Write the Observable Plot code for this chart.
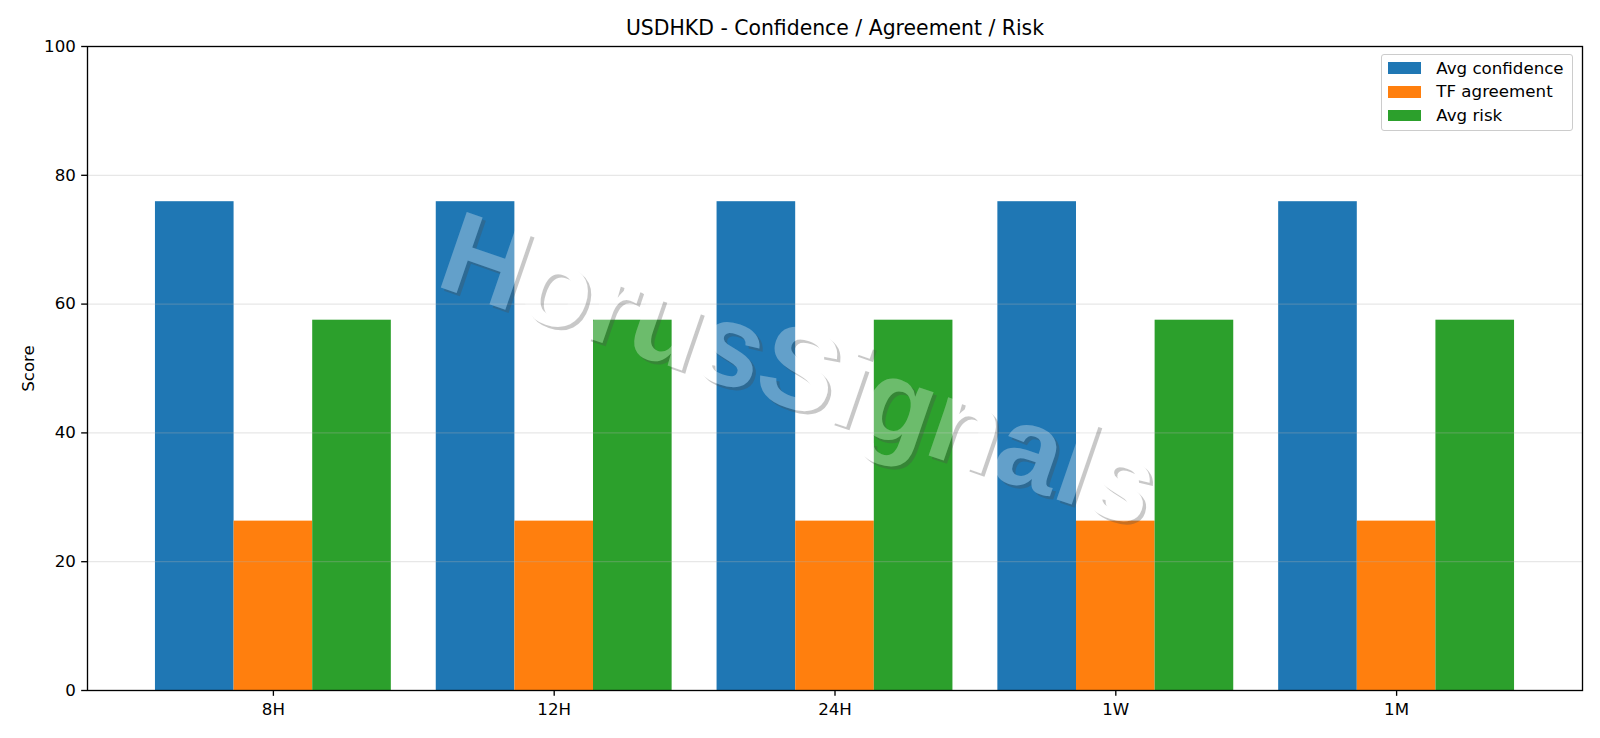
<!DOCTYPE html>
<html>
<head>
<meta charset="utf-8">
<script src="https://cdn.jsdelivr.net/npm/d3@7"></script>
<script src="https://cdn.jsdelivr.net/npm/@observablehq/plot@0.6"></script>
<style>
  html, body { margin: 0; padding: 0; background: white; }
  #wrap { position: relative; width: 1600px; height: 738px; font-family: "DejaVu Sans", sans-serif; }
  #legend { position: absolute; box-sizing: border-box; background: rgba(255,255,255,0.8);
            border: 1.33px solid #cccccc; border-radius: 3px; }
  .lrow { position: absolute; left: 5.5px; height: 23.7px; display: flex; align-items: center; white-space: nowrap;
          font-size: 16.67px; color: black; }
  .lsw { width: 33.3px; height: 11.7px; margin-right: 15.5px; }
</style>
</head>
<body>
<div id="wrap"></div>
<script>
// ---- data ----
const timeframes = ["8H", "12H", "24H", "1W", "1M"];
const seriesNames = ["Avg confidence", "TF agreement", "Avg risk"];
const seriesColors = ["#1f77b4", "#ff7f0e", "#2ca02c"];
const avgConfidence = [75.9, 75.9, 75.9, 75.9, 75.9];
const tfAgreement = [26.3, 26.3, 26.3, 26.3, 26.3];
const avgRisk = [57.5, 57.5, 57.5, 57.5, 57.5];
const yTicks = [0, 20, 40, 60, 80, 100];
const gridTicks = [20, 40, 60, 80];
const titleText = "USDHKD - Confidence / Agreement / Risk";
const yLabel = "Score";
const watermark = "HorusSignals";

// ---- build table ----
const seriesValues = [avgConfidence, tfAgreement, avgRisk];
const barW = 0.28;
const rows = timeframes.flatMap((tf, i) =>
  seriesValues.map((arr, s) => ({ tf, i, s, series: seriesNames[s], value: arr[i] })));
const lo = -barW * 1.5, hi = (timeframes.length - 1) + barW * 1.5;
const m = (hi - lo) * 0.05;

const fs = 16.67;
const wmStyle = {
  text: d => d, frameAnchor: "middle", rotate: 19,
  fontSize: 116, fontFamily: "Liberation Sans", fontWeight: "bold"
};
const chart = Plot.plot({
  width: 1600,
  height: 738,
  marginTop: 46,
  marginBottom: 48,
  marginLeft: 87,
  marginRight: 18,
  x: { type: "linear", domain: [lo - m, hi + m], axis: null },
  y: { domain: [0, 100], axis: null },
  color: { domain: seriesNames, range: seriesColors },
  style: { fontFamily: "DejaVu Sans", fontSize: fs + "px", background: "white", color: "black", overflow: "visible" },
  marks: [
    Plot.rectY(rows, {
      x1: d => d.i + (d.s - 1.5) * barW,
      x2: d => d.i + (d.s - 0.5) * barW,
      y1: 0, y2: "value", fill: "series", inset: 0
    }),
    Plot.gridY(gridTicks, { stroke: "#b0b0b0", strokeOpacity: 0.3, strokeWidth: 1.33 }),
    Plot.text([watermark], { ...wmStyle, dx: -36 + 3.3, dy: 3 + 3.3, fill: "rgb(77,77,77)" }),
    Plot.text([watermark], { ...wmStyle, dx: -36, dy: 3, fill: "white" }),
    Plot.frame({ stroke: "black", strokeWidth: 1.33 }),
    Plot.axisX({
      ticks: d3.range(timeframes.length), tickFormat: i => timeframes[i],
      tickSize: 5.83, tickPadding: 7.3, strokeWidth: 1.33, fontSize: fs, label: null, anchor: "bottom"
    }),
    Plot.axisY({
      ticks: yTicks, tickSize: 5.83, tickPadding: 5.83, strokeWidth: 1.33, fontSize: fs, label: null, anchor: "left"
    }),
    Plot.text([titleText], { text: d => d, frameAnchor: "top", lineAnchor: "middle", dy: -18, fontSize: 20.4 }),
    Plot.text([yLabel], { text: d => d, frameAnchor: "left", textAnchor: "middle", lineAnchor: "middle", dx: -58.5, rotate: -90, fontSize: fs })
  ]
});

const wrap = document.getElementById("wrap");
wrap.appendChild(chart);

// composite the watermark (shadow + text) as one semi-transparent group
const wmTexts = Array.from(chart.querySelectorAll("text")).filter(t => t.textContent === watermark);
if (wmTexts.length === 2) {
  const gs = wmTexts[0].parentNode, gt = wmTexts[1].parentNode;
  const grp = document.createElementNS("http://www.w3.org/2000/svg", "g");
  grp.setAttribute("opacity", "0.3");
  gs.parentNode.insertBefore(grp, gs);
  grp.appendChild(gs);
  grp.appendChild(gt);
}

// ---- legend ----
const legend = document.createElement("div");
legend.id = "legend";
Object.assign(legend.style, { left: "1381px", top: "54px", width: "192px", height: "77px" });
seriesNames.forEach((name, k) => {
  const row = document.createElement("div");
  row.className = "lrow";
  row.style.top = (1.2 + k * 23.7) + "px";
  const sw = document.createElement("div");
  sw.className = "lsw";
  sw.style.background = seriesColors[k];
  const tx = document.createElement("span");
  tx.textContent = name;
  row.appendChild(sw);
  row.appendChild(tx);
  legend.appendChild(row);
});
wrap.appendChild(legend);
</script>
</body>
</html>
